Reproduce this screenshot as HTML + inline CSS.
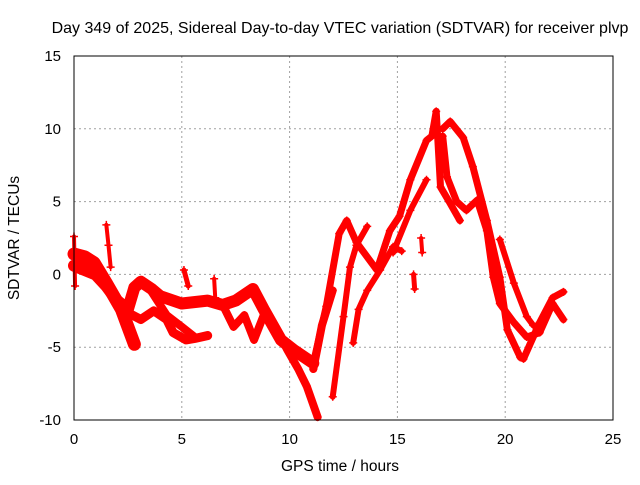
<!DOCTYPE html>
<html><head><meta charset="utf-8"><style>
body{margin:0;background:#fff}
svg text{font-family:"Liberation Sans",sans-serif;fill:#000}
</style></head><body>
<svg id="chart" width="640" height="480">
<rect width="640" height="480" fill="#fff"/>
<text x="340" y="33" font-size="16" text-anchor="middle">Day 349 of 2025, Sidereal Day-to-day VTEC variation (SDTVAR) for receiver plvp</text>
<text x="340" y="471" font-size="15.5" text-anchor="middle">GPS time / hours</text>
<text transform="translate(19,238) rotate(-90)" font-size="15.5" text-anchor="middle">SDTVAR / TECUs</text>
<g id="grid"></g><g id="ticks"></g><g id="marks"></g>
<rect x="74" y="56" width="539" height="364" fill="none" stroke="#000"/>
</svg>
<script>
const xTicks=[0,5,10,15,20,25];
const yTicks=[-10,-5,0,5,10,15];
const bandAT=[0,0.5,0.93,1.5,2.2,2.6,2.8];
const bandAV=[1.4,1.2,0.8,-0.6,-2.4,-4.0,-4.8];
const bandBT=[0,0.5,1.0,1.5,2.0,2.5,2.8,3.1,3.6,4.0,5.0,6.2,6.9,7.5,8.0,8.3,8.8,9.6,10.2,10.8,11.1];
const bandBV=[0.6,0.3,0,-0.8,-1.8,-2.4,-0.9,-0.5,-1.0,-1.5,-2.0,-1.8,-2.1,-1.8,-1.3,-1.0,-2.4,-4.5,-5.2,-5.8,-6.1];
const bandCT=[2.2,3.1,3.7,4.3,4.6,5.2,5.6,6.2];
const bandCV=[-2.4,-3.1,-2.5,-3.1,-4.0,-4.5,-4.4,-4.2];
const bandDT=[3.6,4.3,5.0,5.6];
const bandDV=[-1.2,-2.8,-3.6,-4.3];
const bandET=[6.9,7.4,7.9,8.35,8.8,9.3,9.9,10.4,10.8,11.3];
const bandEV=[-2.1,-3.6,-2.8,-4.5,-2.8,-3.5,-5.2,-6.5,-7.7,-9.8];
const riseAT=[11.1,11.7,12.3,12.65,13.1,14.05,14.65,15.1,15.6,16.35,16.6,16.8,17.0,17.4,17.9];
const riseAV=[-6.1,-2.2,2.8,3.7,2.2,0.3,3.0,4.0,6.5,9.2,9.5,11.2,6.0,5.0,3.7];
const riseBT=[12.0,12.5,12.8,13.1,13.6];
const riseBV=[-8.4,-2.9,0.5,2.0,3.3];
const riseCT=[12.95,13.2,13.6,14.2,14.8,15.2];
const riseCV=[-4.7,-2.4,-1.1,0.3,1.9,1.6];
const riseDT=[14.8,15.6,16.35];
const riseDV=[1.5,4.4,6.5];
const riseET=[11.1,11.5,12.0];
const riseEV=[-6.5,-3.5,-1.1];
const fallAT=[17.1,17.45,18.05,18.5,19.15,19.75,20.1,20.7,20.85,21.6,22.2,22.7];
const fallAV=[10.0,10.5,9.4,7.4,3.7,-0.2,-3.8,-5.7,-5.8,-3.3,-1.6,-1.2];
const fallBT=[17.1,17.3,17.75,18.2,18.7,19.15,19.45,19.75,20.4,21.0,21.6,22.2,22.7];
const fallBV=[9.5,6.7,5.0,4.4,5.1,3.0,-0.2,-2.0,-3.3,-4.3,-4.0,-2.0,-3.1];
const fallCT=[19.75,20.4,21.0,21.3,21.6];
const fallCV=[2.4,-0.6,-2.9,-3.5,-3.6];
const spikeAT=[1.5,1.6,1.7];
const spikeAV=[3.4,2.0,0.5];
const segAT=[5.1,5.3];
const segAV=[0.3,-0.8];
const segBT=[6.5,6.55];
const segBV=[-0.3,-1.6];
const segCT=[15.75,15.8];
const segCV=[0,-1];
const segDT=[16.1,16.15];
const segDV=[2.5,1.5];
const segET=[0,0.05];
const segEV=[2.6,-0.8];

const X=t=>74+t*539/25, Y=v=>420-(v+10)*364/25;
const NS='http://www.w3.org/2000/svg';
const grid=document.getElementById('grid'),ticks=document.getElementById('ticks'),marks=document.getElementById('marks');
function mk(tag,attrs,parent){const e=document.createElementNS(NS,tag);for(const k in attrs)e.setAttribute(k,attrs[k]);parent.appendChild(e);return e;}
xTicks.forEach(t=>{
 const x=X(t);
 if(t>0&&t<25){const g=mk('line',{x1:x,x2:x,y1:56,y2:420,stroke:'#a0a0a0','stroke-dasharray':'2,3'},grid);
 
 }
 const l=mk('text',{x:x,y:444,'font-size':15,'text-anchor':'middle'},ticks);l.textContent=t;
 
 
});
yTicks.forEach(v=>{
 const y=Y(v);
 if(v>-10&&v<15){const g=mk('line',{x1:74,x2:613,y1:y,y2:y,stroke:'#a0a0a0','stroke-dasharray':'2,3'},grid);
 
 }
 const l=mk('text',{x:61,y:y+5,'font-size':15,'text-anchor':'end'},ticks);l.textContent=v;
 
 
});
function drawTrack(T,V,name,w){
 const p=mk('polyline',{points:T.map((t,i)=>X(t)+','+Y(V[i])).join(' '),fill:'none',stroke:'#ff0000','stroke-width':w,'stroke-linejoin':'round','stroke-linecap':'round'},marks);
 
 
 T.forEach((t,i)=>{const x=X(t),y=Y(V[i]);
  const m=mk('path',{d:`M${x-4},${y}h8M${x},${y-4}v8`,stroke:'#ff0000','stroke-width':1.5},marks);
  
  });
}
drawTrack(bandAT,bandAV,'band-a',13);
drawTrack(bandBT,bandBV,'band-b',12);
drawTrack(bandCT,bandCV,'band-c',9);
drawTrack(bandDT,bandDV,'band-d',8);
drawTrack(bandET,bandEV,'band-e',8);
drawTrack(riseAT,riseAV,'rise-a',7);
drawTrack(riseBT,riseBV,'rise-b',6);
drawTrack(riseCT,riseCV,'rise-c',6);
drawTrack(riseDT,riseDV,'rise-d',6);
drawTrack(riseET,riseEV,'rise-e',8);
drawTrack(fallAT,fallAV,'fall-a',7);
drawTrack(fallBT,fallBV,'fall-b',7);
drawTrack(fallCT,fallCV,'fall-c',6);
drawTrack(spikeAT,spikeAV,'spike-a',4);
drawTrack(segAT,segAV,'segment-a',5);
drawTrack(segBT,segBV,'segment-b',4);
drawTrack(segCT,segCV,'segment-c',5);
drawTrack(segDT,segDV,'segment-d',4);
drawTrack(segET,segEV,'segment-e',4);
</script>
</body></html>
